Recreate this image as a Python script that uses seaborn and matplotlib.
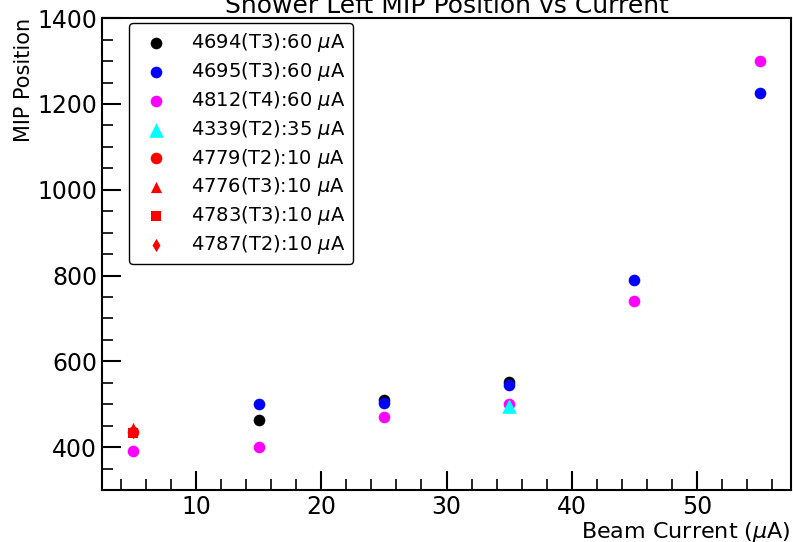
import matplotlib
matplotlib.use("Agg")
import matplotlib.pyplot as plt
from matplotlib.ticker import MultipleLocator
import seaborn as sns

# Beam current (uA) and MIP position for each run
cur_4694 = [15, 25, 35]
mip_4694 = [463, 511, 552]

cur_4695 = [15, 25, 35, 45, 55]
mip_4695 = [500, 503, 545, 790, 1225]

cur_4812 = [5, 15, 25, 35, 45, 55]
mip_4812 = [391, 400, 470, 500, 740, 1300]

cur_4339 = [35]
mip_4339 = [497]

cur_4779 = [5]
mip_4779 = [436]

cur_4776 = [5]
mip_4776 = [444]

cur_4783 = [5]
mip_4783 = [432]

cur_4787 = [5]
mip_4787 = [435]

sns.set_style("ticks", {"axes.edgecolor": "black", "text.color": "black",
                        "axes.labelcolor": "black", "xtick.color": "black",
                        "ytick.color": "black"})
plt.rcParams['font.family'] = ['DejaVu Sans']

fig = plt.figure(figsize=(7.93, 5.42), dpi=100)
ax = fig.add_axes([0.1286, 0.0959, 0.869, 0.8705])

series = [
    (cur_4694, mip_4694, 'black', 'o', 70, r'4694(T3):60 $\mu$A'),
    (cur_4695, mip_4695, 'blue', 'o', 70, r'4695(T3):60 $\mu$A'),
    (cur_4812, mip_4812, 'magenta', 'o', 70, r'4812(T4):60 $\mu$A'),
    (cur_4339, mip_4339, 'cyan', '^', 110, r'4339(T2):35 $\mu$A'),
    (cur_4779, mip_4779, 'red', 'o', 70, r'4779(T2):10 $\mu$A'),
    (cur_4776, mip_4776, 'red', '^', 65, r'4776(T3):10 $\mu$A'),
    (cur_4783, mip_4783, 'red', 's', 55, r'4783(T3):10 $\mu$A'),
    (cur_4787, mip_4787, 'red', 'd', 45, r'4787(T2):10 $\mu$A'),
]
for x, y, c, m, s, lab in series:
    sns.scatterplot(x=x, y=y, color=c, marker=m, s=s, linewidth=0,
                    label=lab, ax=ax)

ax.set_ylim(300, 1400)
ax.set_xlim(2.5, 57.5)
ax.xaxis.set_major_locator(MultipleLocator(10))
ax.xaxis.set_minor_locator(MultipleLocator(2))
ax.yaxis.set_major_locator(MultipleLocator(200))
ax.yaxis.set_minor_locator(MultipleLocator(50))
ax.tick_params(which='major', direction='in', length=14, width=1.5,
               labelsize=17, top=False, right=False, colors='black')
ax.tick_params(which='minor', direction='in', length=8, width=1.2,
               top=False, right=False, colors='black')
for sp in ax.spines.values():
    sp.set_linewidth(1.5)
    sp.set_edgecolor('black')
    sp.set_visible(True)

ax.set_xlabel(r'Beam Current ($\mu$A)', fontsize=16, loc='right', labelpad=1,
              color='black')
ax.set_ylabel('MIP Position', fontsize=15, loc='top', labelpad=2,
              color='black')
ax.set_title('Shower Left MIP Position vs Current', fontsize=18, pad=3,
             color='black')

leg = ax.legend(loc='upper left', bbox_to_anchor=(0.039, 0.989),
                borderaxespad=0, fontsize=14, frameon=True,
                handletextpad=0.8, labelspacing=0.3, borderpad=0.4)
leg.get_frame().set_edgecolor('black')
leg.get_frame().set_linewidth(1.0)
leg.get_frame().set_alpha(1.0)
for t in leg.get_texts():
    t.set_color('black')

fig.savefig('out.png', dpi=100)
